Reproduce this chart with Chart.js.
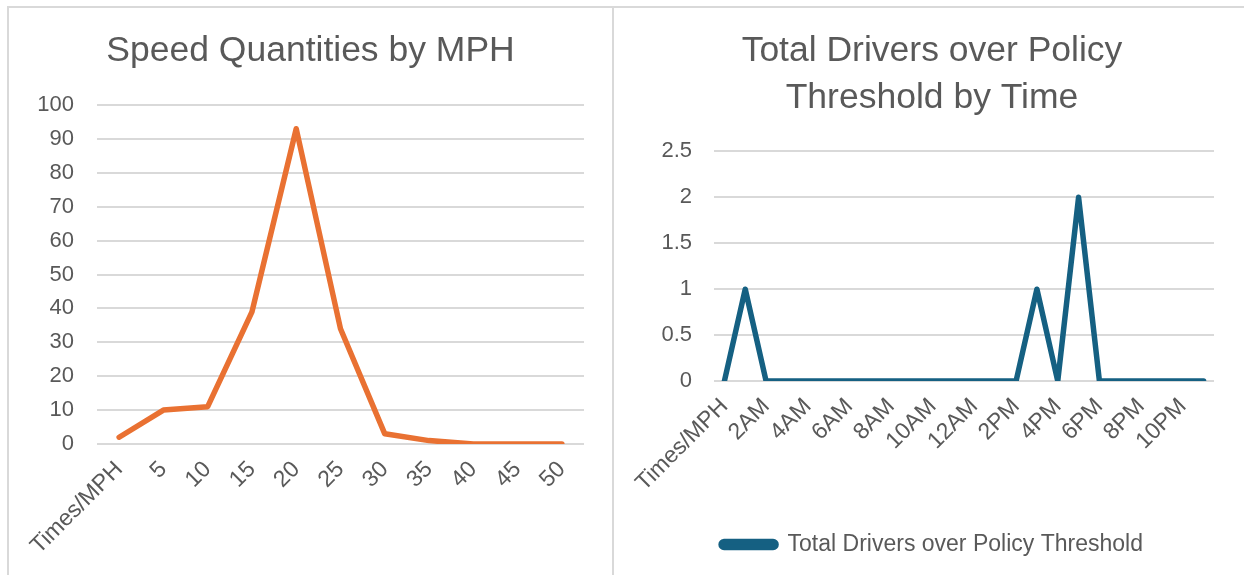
<!DOCTYPE html>
<html>
<head>
<meta charset="utf-8">
<script src="https://cdn.jsdelivr.net/npm/chart.js@4.4.1/dist/chart.umd.min.js"></script>
<style>
  html, body { margin: 0; padding: 0; background: #ffffff; width: 1244px; height: 575px; overflow: hidden; }
  .panel { position: absolute; border: 2px solid #d9d9d9; box-sizing: border-box; background: #fff; }
  #p1 { left: 7px; top: 6px; width: 608px; height: 600px; }
  #p2 { left: 612px; top: 6px; width: 640px; height: 600px; }
  canvas { position: absolute; }
  #c1 { left: 9px; top: 8px; }
  #c2 { left: 614px; top: 8px; }
</style>
</head>
<body>
<div class="panel" id="p1"></div>
<div class="panel" id="p2"></div>
<canvas id="c1" width="603" height="567" style="width:603px;height:567px"></canvas>
<canvas id="c2" width="636" height="567" style="width:636px;height:567px"></canvas>
<script>
// ---- Data ----
const speedLabels = ["Times/MPH", "5", "10", "15", "20", "25", "30", "35", "40", "45", "50"];
const speedValues = [2, 10, 11, 39, 93, 34, 3, 1, 0, 0, 0];

const timeLabels = ["Times/MPH", "1AM", "2AM", "3AM", "4AM", "5AM", "6AM", "7AM", "8AM", "9AM", "10AM", "11AM",
                    "12AM", "1PM", "2PM", "3PM", "4PM", "5PM", "6PM", "7PM", "8PM", "9PM", "10PM", "11PM"];
const driverValues = [0, 1, 0, 0, 0, 0, 0, 0, 0, 0, 0, 0, 0, 0, 0, 1, 0, 2, 0, 0, 0, 0, 0, 0];

const chart1Title = "Speed Quantities by MPH";
const chart2Title = ["Total Drivers over Policy", "Threshold by Time"];
const seriesName2 = "Total Drivers over Policy Threshold";

// ---- Styles ----
const FONT = "'Liberation Sans', Arial, sans-serif";
const TXT = "#595959";
const GRID = "#d9d9d9";
const ORANGE = "#E97132";
const BLUE = "#156082";

Chart.defaults.font.family = FONT;
Chart.defaults.color = TXT;
Chart.defaults.animation = false;

// invisible spacer axis on the right so titles/legend stay centred on the panel
function spacer(w) {
  return {
    position: "right",
    display: true,
    grid: { display: false, drawTicks: false },
    border: { display: false },
    ticks: { display: false },
    afterFit: s => { s.width = w; }
  };
}

new Chart(document.getElementById("c1"), {
  type: "line",
  data: {
    labels: speedLabels,
    datasets: [{
      label: "Speed",
      data: speedValues,
      borderColor: ORANGE,
      backgroundColor: ORANGE,
      borderWidth: 5.5,
      borderCapStyle: "round",
      borderJoinStyle: "round",
      pointRadius: 0,
      tension: 0
    }]
  },
  options: {
    responsive: false,
    layout: { padding: 0 },
    plugins: {
      legend: { display: false },
      tooltip: { enabled: false },
      title: {
        display: true,
        text: chart1Title,
        color: TXT,
        font: { size: 35.5, weight: "normal", lineHeight: 1.2 },
        padding: { top: 22, bottom: 32.4 }
      }
    },
    scales: {
      x: {
        offset: true,
        grid: { display: false, drawTicks: false },
        border: { display: false },
        ticks: { maxRotation: 45, minRotation: 45, autoSkip: false, padding: 12, color: TXT, font: { size: 23 } },
        afterFit: s => { s.height = 131; }
      },
      y: {
        min: 0, max: 100,
        grid: { color: GRID, lineWidth: 2, drawTicks: false },
        border: { display: false },
        ticks: { stepSize: 10, padding: 23, color: TXT, font: { size: 22 } },
        afterFit: s => { s.width = 88; }
      },
      yr: spacer(28)
    }
  }
});

new Chart(document.getElementById("c2"), {
  type: "line",
  data: {
    labels: timeLabels,
    datasets: [{
      label: seriesName2,
      data: driverValues,
      borderColor: BLUE,
      backgroundColor: BLUE,
      borderWidth: 5.5,
      borderCapStyle: "round",
      borderJoinStyle: "round",
      pointRadius: 0,
      tension: 0
    }]
  },
  options: {
    responsive: false,
    layout: { padding: { left: 0, right: 0, top: 0, bottom: 9 } },
    plugins: {
      tooltip: { enabled: false },
      title: {
        display: true,
        text: chart2Title,
        color: TXT,
        font: { size: 35.5, weight: "normal", lineHeight: 1.33 },
        padding: { top: 19.5, bottom: 29.5 }
      },
      legend: {
        display: true,
        position: "bottom",
        labels: {
          color: TXT,
          font: { size: 23 },
          boxWidth: 55,
          boxHeight: 6,
          useBorderRadius: true,
          borderRadius: 3,
          padding: 10
        }
      }
    },
    scales: {
      x: {
        offset: true,
        grid: { display: false, drawTicks: false },
        border: { display: false },
        ticks: {
          maxRotation: 45, minRotation: 45, autoSkip: false, padding: 12, color: TXT, font: { size: 23 },
          callback: function(v, i) { return i % 2 === 0 ? this.getLabelForValue(v) : ""; }
        },
        afterFit: s => { s.height = 142; }
      },
      y: {
        min: 0, max: 2.5,
        grid: { color: GRID, lineWidth: 2, drawTicks: false },
        border: { display: false },
        ticks: { stepSize: 0.5, padding: 22, color: TXT, font: { size: 22 },
                 callback: v => String(Math.round(v * 10) / 10) },
        afterFit: s => { s.width = 100; }
      },
      yr: spacer(36)
    }
  }
});
</script>
</body>
</html>
